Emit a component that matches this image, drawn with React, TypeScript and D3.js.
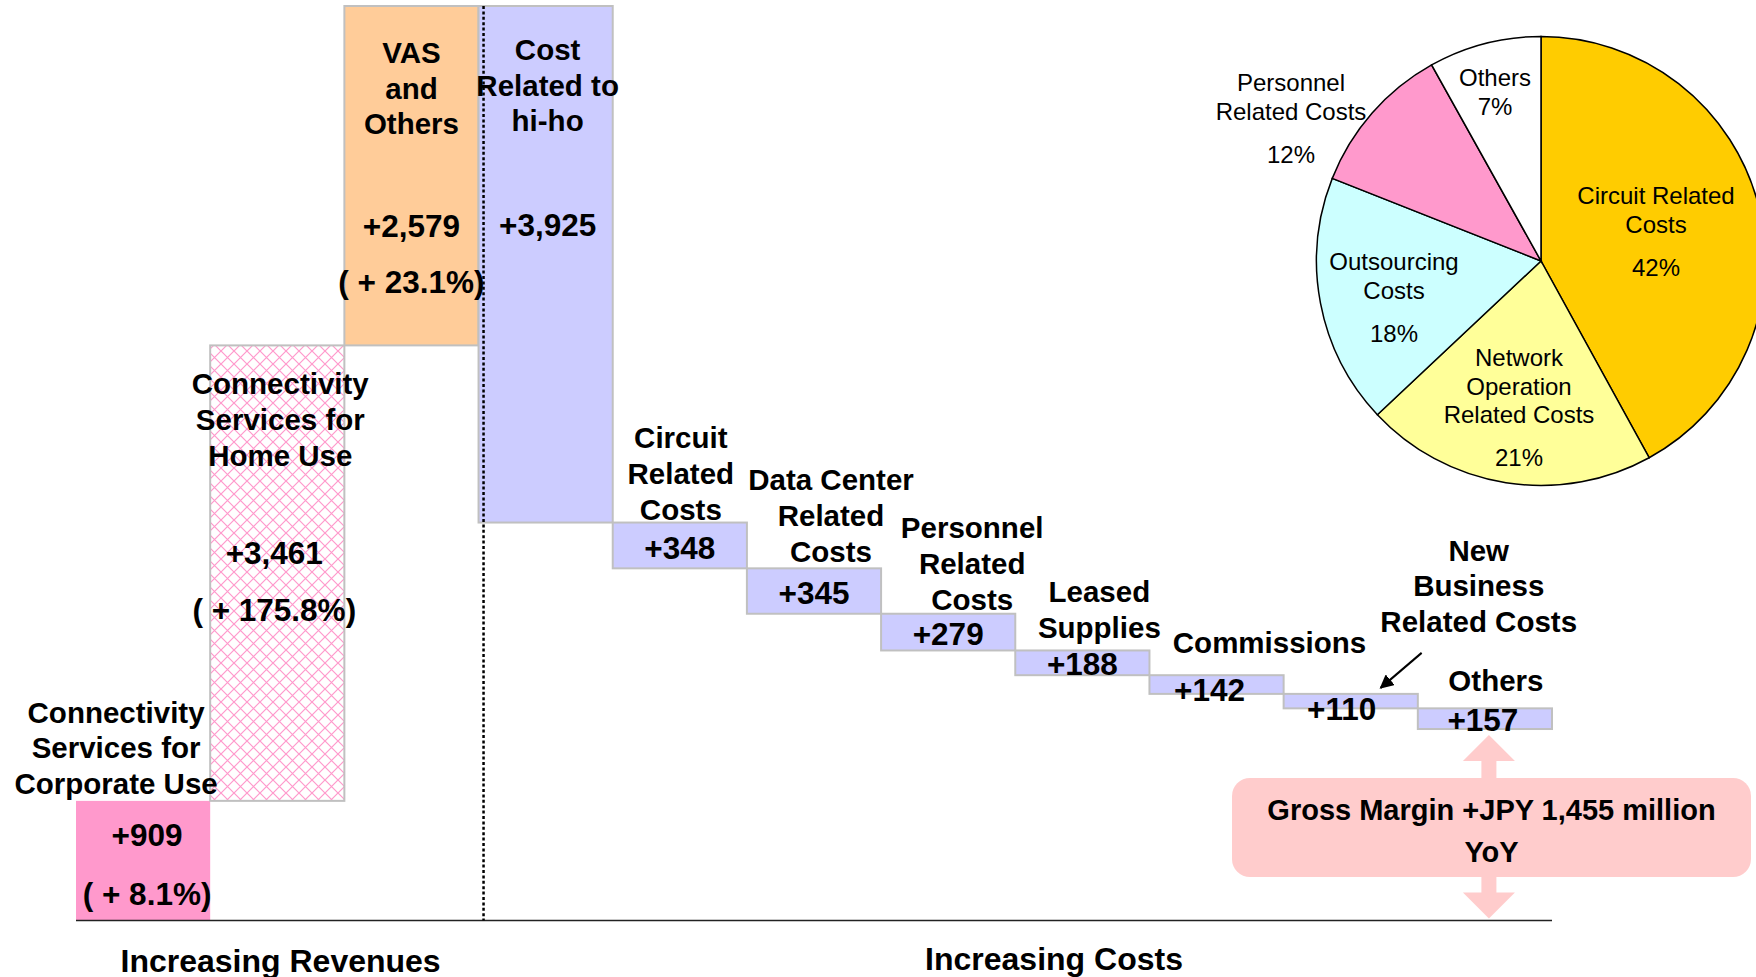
import React from 'react';
import * as d3 from 'd3';

const width = 1756;
const height = 977;
const font = '"Liberation Sans", Arial, Helvetica, sans-serif';

// waterfall data (JPY million, YoY change)
const categories = ['corp', 'home', 'vas', 'hiho', 'circuit', 'datacenter', 'personnel', 'leased', 'commissions', 'newbiz', 'others'];
const barLabels = [
  ['Connectivity', 'Services for', 'Corporate Use'],
  ['Connectivity', 'Services for', 'Home Use'],
  ['VAS', 'and', 'Others'],
  ['Cost', 'Related to', 'hi-ho'],
  ['Circuit', 'Related', 'Costs'],
  ['Data Center', 'Related', 'Costs'],
  ['Personnel', 'Related', 'Costs'],
  ['Leased', 'Supplies'],
  ['Commissions'],
  ['New', 'Business', 'Related Costs'],
  ['Others'],
];
const values = [909, 3461, 2579, 3925, 348, 345, 279, 188, 142, 110, 157];
const kinds = ['rev', 'rev', 'rev', 'cost', 'cost', 'cost', 'cost', 'cost', 'cost', 'cost', 'cost'];
const growth = ['( + 8.1%)', '( + 175.8%)', '( + 23.1%)', '', '', '', '', '', '', '', ''];

// pie: breakdown of cost increase (slice sizes as drawn, labels as printed)
const pieNames = [
  ['Circuit Related', 'Costs'],
  ['Network', 'Operation', 'Related Costs'],
  ['Outsourcing', 'Costs'],
  ['Personnel', 'Related Costs'],
  ['Others'],
];
const pieValues = [42, 21, 18, 10.9, 8.1];
const pieLabels = ['42%', '21%', '18%', '12%', '7%'];

const fills = ['#ff99cc', 'url(#hatch)', '#ffcc99', '#ccccff', '#ccccff', '#ccccff', '#ccccff', '#ccccff', '#ccccff', '#ccccff', '#ccccff'];
const pieColors = ['#ffcc00', '#ffff99', '#ccffff', '#ff99cc', '#ffffff'];

// label placement: [dx from bar centre, centre of last line relative to bar top]
const labelPos = [[-27, -17], [3, 110], [0, 118], [2, 115], [1, -13], [17, -17], [24, -14], [17, -23], [53, -33], [128, -72], [11, -28]];
// value placement: revenue bars from top, cost bars from bar middle
const valuePos = [[4, 34], [-3, 208], [0, 220], [2, 219], [0, 3], [0, 2], [0, 2], [0, 1], [-7, 5], [-9, 8], [-2, 1]];
const growthDy = [93, 265, 276];
// pie label offsets from pie centre (first line)
const pieLabelPos = [[115, -65], [-22, 97], [-147, 1], [-250, -178], [-46, -183]];

const lh = 35.8;

function Lines({ x, y, lines, size, weight = 'bold', gap = lh }) {
  return (
    <g>
      {lines.map((t, i) => (
        <text key={i} x={x} y={y + i * gap + size * 0.35} textAnchor="middle"
          fontFamily={font} fontSize={size} fontWeight={weight} fill="#000">{t}</text>
      ))}
    </g>
  );
}

export default function App() {
  const x = d3.scaleBand().domain(categories).range([76, 1552]).padding(0);
  const total = d3.sum(values.filter((_, i) => kinds[i] === 'rev'));
  const y = d3.scaleLinear().domain([0, total]).range([920.5, 6]);

  let level = 0;
  const bars = categories.map((c, i) => {
    const v = values[i];
    let lo, hi;
    if (kinds[i] === 'rev') { lo = level; hi = level + v; level = hi; }
    else { hi = level; lo = level - v; level = lo; }
    return { c, i, x0: x(c), w: x.bandwidth(), top: y(hi), bottom: y(lo) };
  });
  const marginLevel = level;

  const pieCx = 1541, pieCy = 261, pieR = 224.5;
  const pie = d3.pie().sort(null).value(d => d)(pieValues);
  const arc = d3.arc().innerRadius(0).outerRadius(pieR);

  const othersBar = bars[10];
  const ax = othersBar.x0 + othersBar.w / 2 + 4;
  const aTop = y(marginLevel) + 6;
  const aBot = y(0) - 2;
  const hw = 26, sw = 7.5, hl = 26;
  const arrowPts = [
    [ax, aTop], [ax + hw, aTop + hl], [ax + sw, aTop + hl], [ax + sw, aBot - hl], [ax + hw, aBot - hl],
    [ax, aBot], [ax - hw, aBot - hl], [ax - sw, aBot - hl], [ax - sw, aTop + hl], [ax - hw, aTop + hl],
  ].map(p => p.join(',')).join(' ');

  const nb = bars[9];
  const dividerX = x('hiho') + 5;

  return (
    <svg width={width} height={height} style={{ position: 'absolute', left: 0, top: 0, background: '#fff' }}>
      <defs>
        <pattern id="hatch" patternUnits="userSpaceOnUse" width={13} height={13}>
          <rect width={13} height={13} fill="#fff" />
          <path d="M0,0 L13,13 M13,0 L0,13" stroke="#ff99cc" strokeWidth={1.2} />
        </pattern>
        <marker id="ah" viewBox="0 0 10 10" refX={9} refY={5} markerWidth={7} markerHeight={7} orient="auto">
          <path d="M0,0 L10,5 L0,10 z" fill="#000" />
        </marker>
      </defs>

      {/* bars */}
      {bars.map(b => (
        <rect key={b.c} x={b.x0} y={b.top} width={b.w} height={b.bottom - b.top}
          fill={fills[b.i]} stroke={b.i === 0 ? 'none' : '#c0c0c0'} strokeWidth={2} />
      ))}

      {/* baseline and divider */}
      <line x1={76} x2={1552} y1={y(0)} y2={y(0)} stroke="#222" strokeWidth={1.5} />
      <line x1={dividerX} x2={dividerX} y1={y(total)} y2={y(0)} stroke="#000" strokeWidth={2.5} strokeDasharray="3,2.4" />

      {/* category labels */}
      {bars.map(b => {
        const lines = barLabels[b.i];
        const [dx, lastDy] = labelPos[b.i];
        const firstY = b.top + lastDy - (lines.length - 1) * lh;
        return <Lines key={'l' + b.c} x={b.x0 + b.w / 2 + dx} y={firstY} lines={lines} size={29.5} />;
      })}

      {/* values */}
      {bars.map(b => {
        const [dx, dy] = valuePos[b.i];
        const cy = b.i < 4 ? b.top + dy : (b.top + b.bottom) / 2 + dy;
        const cx = b.x0 + b.w / 2 + dx;
        return (
          <g key={'v' + b.c}>
            <text x={cx} y={cy + 31.5 * 0.35} textAnchor="middle" fontFamily={font} fontSize={31.5} fontWeight="bold">
              {'+' + d3.format(',')(values[b.i])}
            </text>
            {growth[b.i] && (
              <text x={cx} y={b.top + growthDy[b.i] + 31.5 * 0.35} textAnchor="middle" fontFamily={font} fontSize={31.5} fontWeight="bold">
                {growth[b.i]}
              </text>
            )}
          </g>
        );
      })}

      {/* arrow to New Business label */}
      <line x1={nb.x0 + 138} y1={nb.top - 41} x2={nb.x0 + 97} y2={nb.top - 6} stroke="#000" strokeWidth={2} markerEnd="url(#ah)" />

      {/* gross margin */}
      <polygon points={arrowPts} fill="#ffcccc" />
      <rect x={1232} y={778} width={519} height={99} rx={18} fill="#ffcccc" />
      <text x={1491.5} y={810 + 29 * 0.35} textAnchor="middle" fontFamily={font} fontSize={29} fontWeight="bold">
        {'Gross Margin +JPY ' + d3.format(',')(marginLevel) + ' million'}
      </text>
      <text x={1491.5} y={852 + 29 * 0.35} textAnchor="middle" fontFamily={font} fontSize={29} fontWeight="bold">YoY</text>

      {/* axis titles */}
      <text x={280.6} y={961 + 32 * 0.35} textAnchor="middle" fontFamily={font} fontSize={32} fontWeight="bold">Increasing Revenues</text>
      <text x={1054} y={959 + 32 * 0.35} textAnchor="middle" fontFamily={font} fontSize={32} fontWeight="bold">Increasing Costs</text>

      {/* pie */}
      <g transform={`translate(${pieCx},${pieCy})`}>
        {pie.map((s, i) => (
          <path key={i} d={arc(s)} fill={pieColors[i]} stroke="#000" strokeWidth={1.5} />
        ))}
        {pie.map((s, i) => {
          const [dx, dy] = pieLabelPos[i];
          const lines = pieNames[i];
          const pctGap = lines.length === 1 ? 29 : 43;
          return (
            <g key={'pl' + i}>
              <Lines x={dx} y={dy} lines={lines} size={24} weight="normal" gap={28.5} />
              <Lines x={dx} y={dy + (lines.length - 1) * 28.5 + pctGap} lines={[pieLabels[i]]} size={24} weight="normal" />
            </g>
          );
        })}
      </g>
    </svg>
  );
}
